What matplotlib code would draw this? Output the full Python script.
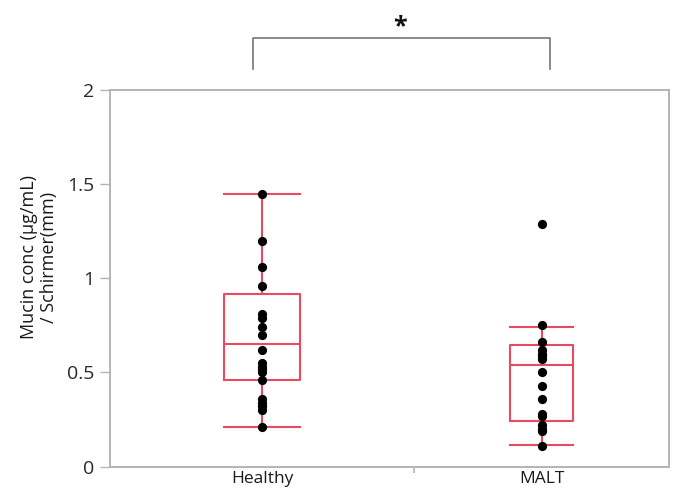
import matplotlib.pyplot as plt

# ─── data ───
groups = ["Healthy", "MALT"]
healthy = [1.45, 1.20, 1.06, 0.96, 0.81, 0.79, 0.74, 0.70, 0.62, 0.55,
           0.53, 0.52, 0.50, 0.46, 0.36, 0.34, 0.32, 0.30, 0.21]
malt = [1.29, 0.75, 0.66, 0.62, 0.60, 0.59, 0.57, 0.50, 0.43, 0.36,
        0.28, 0.27, 0.22, 0.20, 0.19, 0.11]

# box statistics as drawn in the figure
q1 = [0.46, 0.24]
med = [0.652, 0.537]
q3 = [0.916, 0.644]
wlo = [0.21, 0.112]
whi = [1.45, 0.743]

# ─── layout ───
positions = [0.272, 0.772]
widths = [0.136, 0.113]
divider = 0.544
box_color = "#ea4a60"
grey = "#b4b4b4"

plt.rcParams["font.family"] = ["Open Sans", "DejaVu Sans"]

fig = plt.figure(figsize=(6.75, 4.92), dpi=100)
ax = fig.add_axes([110 / 675, 1 - 466.5 / 492, 559 / 675, 376.2 / 492])

stats = []
for i, name in enumerate(groups):
    stats.append(dict(label=name, q1=q1[i], med=med[i], q3=q3[i],
                      whislo=wlo[i], whishi=whi[i], fliers=[]))

line_kw = dict(color=box_color, linewidth=1.5)
ax.bxp(stats, positions=positions, widths=widths, showfliers=False,
       boxprops=line_kw, medianprops=line_kw, whiskerprops=line_kw,
       capprops=line_kw, capwidths=widths, manage_ticks=False)

for pos, vals in zip(positions, [healthy, malt]):
    ax.scatter([pos] * len(vals), vals, s=44, color="black", zorder=3,
               linewidths=0)

ax.set_xlim(0, 1)
ax.set_ylim(0, 2)
ax.set_yticks([0, 0.5, 1, 1.5, 2])
ax.set_yticklabels(["0", "0.5", "1", "1.5", "2"])
ax.set_xticks(positions)
ax.set_xticklabels(groups)
ax.tick_params(axis="x", length=0, labelsize=12.5, pad=3, colors="#1a1a1a")
ax.set_xticks([divider], minor=True)
ax.tick_params(axis="x", which="minor", length=4, color=grey, width=1.2)
ax.tick_params(axis="y", length=7, color=grey, width=1, labelsize=14,
               colors="#2a2a2a", pad=4)
for tl in ax.get_yticklabels():
    tl.set_color("#2a2a2a")
for sp in ax.spines.values():
    sp.set_color(grey)
    sp.set_linewidth(1.4)

fig.text(39 / 675, 1 - 257 / 492, "Mucin conc (µg/mL)\n/ Schirmer(mm)",
         rotation=90, ha="center", va="center", fontsize=13,
         color="#1a1a1a", linespacing=1.2)

# significance bracket
ax.plot([0.256, 0.256, 0.787, 0.787], [2.113, 2.28, 2.28, 2.113],
         color="#777777", linewidth=1.2, clip_on=False)
ax.text(0.519, 2.34, "*", ha="center", va="center", fontsize=18,
        fontweight="bold", color="#111111", clip_on=False)

fig.savefig("out.png", dpi=100)
